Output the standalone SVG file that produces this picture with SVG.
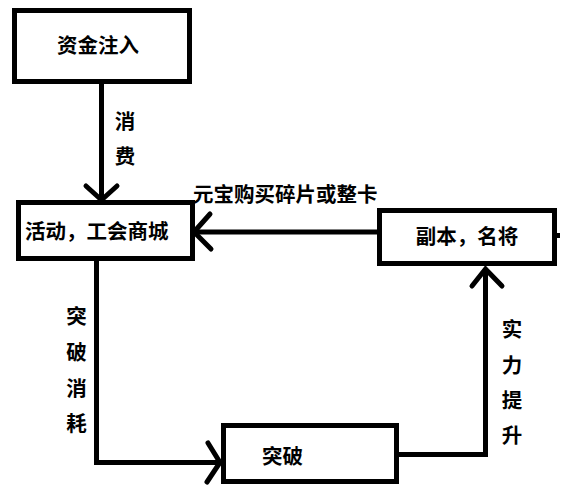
<svg xmlns="http://www.w3.org/2000/svg" width="571" height="489" viewBox="0 0 571 489">
<style>
.box{fill:#fff;stroke:#000;stroke-width:5}
.ln{fill:none;stroke:#000;stroke-width:5}
.ah{fill:none;stroke:#000;stroke-width:5;stroke-linecap:round;stroke-linejoin:miter}
text{font-family:"Microsoft YaHei","Noto Sans CJK SC",sans-serif;font-weight:bold;font-size:20.5px;fill:#000;dominant-baseline:central}
.m{text-anchor:middle}
</style>
<rect width="571" height="489" fill="#fff"/>
<g id="connectors">
<line class="ln" x1="101.5" y1="84" x2="101.5" y2="199"/>
<polyline class="ah" points="86,186 101.5,200 117,186"/>
<line class="ln" x1="379" y1="232" x2="195" y2="232"/>
<polyline class="ah" points="210,214 194,232 211,249"/>
<line class="ln" x1="555" y1="235.5" x2="560" y2="235.5"/>
<polyline class="ln" points="96.5,261 96.5,462.5 221,462.5"/>
<polyline class="ah" points="208,443 220,462.5 207,482"/>
<polyline class="ln" points="399,454.5 485.5,454.5 485.5,268"/>
<polyline class="ah" points="472,286 485.5,269 502,286"/>
<g id="label-consume">
<text class="m" x="125" y="120">消</text>
<text class="m" x="125" y="155">费</text>
</g>
<text id="label-buy" x="193" y="193">元宝购买碎片或整卡</text>
<g id="label-break">
<text class="m" x="76.5" y="315">突</text>
<text class="m" x="76.5" y="351">破</text>
<text class="m" x="76.5" y="387">消</text>
<text class="m" x="76.5" y="422">耗</text>
</g>
<g id="label-power">
<text class="m" x="512" y="328">实</text>
<text class="m" x="512" y="364">力</text>
<text class="m" x="512" y="399">提</text>
<text class="m" x="512" y="434">升</text>
</g>
</g>
<g id="node-funds">
<rect class="box" x="14.5" y="10.5" width="175" height="71"/>
<text class="m" x="98" y="44">资金注入</text>
</g>
<g id="node-shop">
<rect class="box" x="18.5" y="202.5" width="174" height="56"/>
<text x="25" y="230">活动，工会商城</text>
</g>
<g id="node-dungeon">
<rect class="box" x="379.5" y="210.5" width="175" height="53"/>
<text class="m" x="467" y="235">副本，名将</text>
</g>
<g id="node-break">
<rect class="box" x="223.5" y="425.5" width="173" height="56"/>
<text x="262" y="455">突破</text>
</g>
</svg>
